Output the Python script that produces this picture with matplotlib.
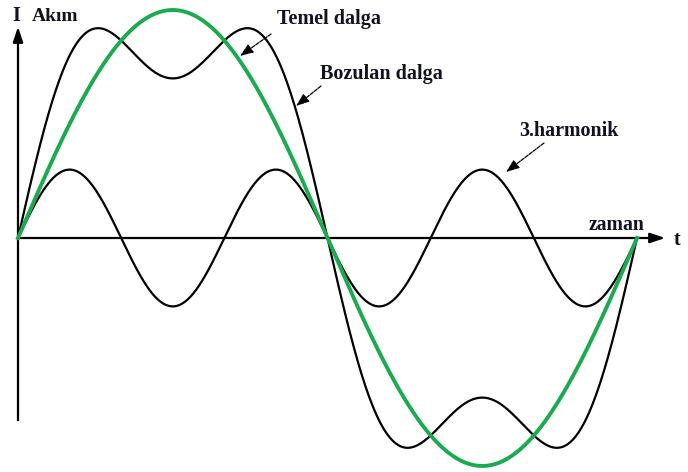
import numpy as np
import matplotlib
matplotlib.use("Agg")
import matplotlib.pyplot as plt

# Data: harmonic components (order, amplitude relative to fundamental)
fundamental_order = 1
fundamental_amp = 1.0
third_order = 3
third_amp = 0.3
phase_deg = np.linspace(0, 360, 721)

labels = {"temel": "Temel dalga", "bozulan": "Bozulan dalga", "harm": "3.harmonik",
          "x": "zaman", "t": "t", "I": "I", "akim": "Akım"}

W, H = 688, 472
fig = plt.figure(figsize=(W / 100, H / 100), dpi=100)
ax = fig.add_axes([0, 0, 1, 1])

# pixel->data helpers for layout
X0, XP = 18, 619
Y0, YA = 238, 228
def px(p):
    return (p - X0) * 360.0 / XP
def py(p):
    return (Y0 - p) / YA

ax.set_xlim(px(0), px(W))
ax.set_ylim(py(H), py(0))
ax.axis("off")

rad = np.deg2rad(phase_deg)
fund = fundamental_amp * np.sin(fundamental_order * rad)
harm = third_amp * np.sin(third_order * rad)
dist = fund + harm

ax.plot(phase_deg, harm, color="black", lw=1.6, zorder=3)
ax.plot(phase_deg, dist, color="black", lw=1.6, zorder=3)
ax.plot(phase_deg, fund, color="#1aab4f", lw=2.8, zorder=4)

# axes with arrows
ax.plot([px(18), px(18)], [py(420), py(40)], color="black", lw=1.6, zorder=2)
ax.annotate("", xy=(px(18), py(24)), xytext=(px(18), py(45)),
            arrowprops=dict(arrowstyle="-|>,head_length=0.9,head_width=0.3", color="black", lw=1.6))
ax.plot([px(18), px(652)], [0, 0], color="black", lw=1.6, zorder=2)
ax.annotate("", xy=(px(668), 0), xytext=(px(648), 0),
            arrowprops=dict(arrowstyle="-|>,head_length=0.9,head_width=0.3", color="black", lw=1.6))

tk = dict(fontfamily="Liberation Serif", fontweight="bold", color="#111122")
ax.text(px(16), py(16), labels["I"], fontsize=14.5, ha="center", va="center", **tk)
ax.text(px(32), py(16), labels["akim"], fontsize=14, ha="left", va="center", **tk)
ax.text(px(674), py(240), labels["t"], fontsize=14.5, ha="left", va="center", **tk)
ax.text(px(617), py(225), labels["x"], fontsize=14.2, ha="center", va="center", **tk)
ax.text(px(329), py(19), labels["temel"], fontsize=14.5, ha="center", va="center", **tk)
ax.text(px(381), py(74), labels["bozulan"], fontsize=14.5, ha="center", va="center", **tk)
ax.text(px(569), py(131), labels["harm"], fontsize=14.4, ha="center", va="center", **tk)

ap = dict(arrowstyle="-|>,head_length=0.8,head_width=0.3", color="black", lw=0.9,
          linestyle=(0, (3, 1)), shrinkA=0, shrinkB=0)
ax.annotate("", xy=(px(240), py(56)), xytext=(px(271), py(34)), arrowprops=ap)
ax.annotate("", xy=(px(296), py(106)), xytext=(px(321), py(86)), arrowprops=ap)
ax.annotate("", xy=(px(506), py(172)), xytext=(px(544), py(143)), arrowprops=ap)

fig.savefig("out.png", dpi=100, facecolor="white")
